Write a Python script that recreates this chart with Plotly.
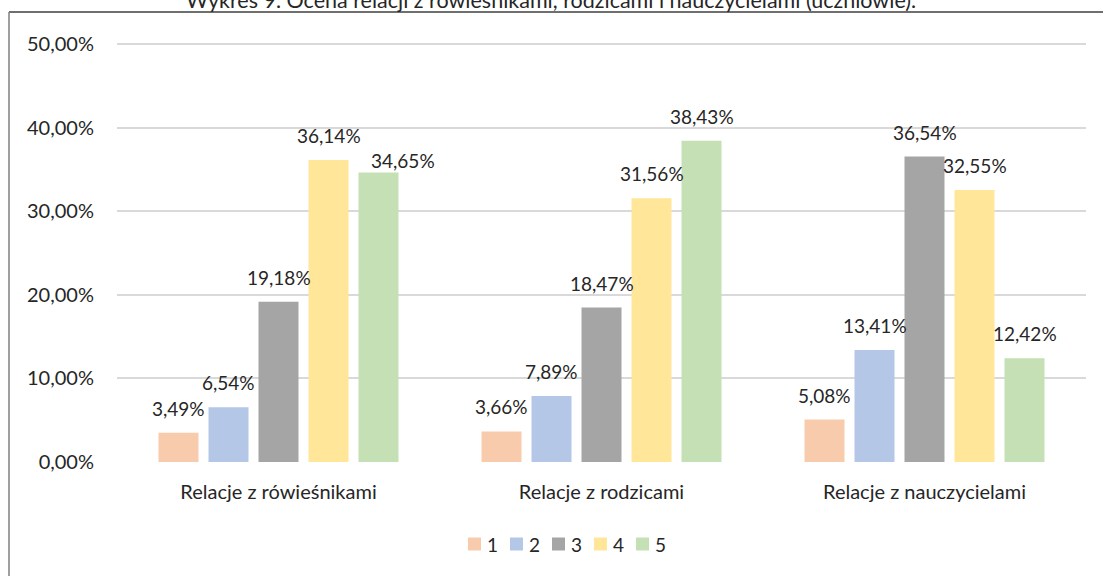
import plotly.graph_objects as go

categories = ["Relacje z rówieśnikami", "Relacje z rodzicami", "Relacje z nauczycielami"]
series_names = ["1", "2", "3", "4", "5"]
s1 = [3.49, 3.66, 5.08]
s2 = [6.54, 7.89, 13.41]
s3 = [19.18, 18.47, 36.54]
s4 = [36.14, 31.56, 32.55]
s5 = [34.65, 38.43, 12.42]
y_ticks = [0, 10, 20, 30, 40, 50]
y_tick_labels = ["0,00%", "10,00%", "20,00%", "30,00%", "40,00%", "50,00%"]
title_text = "Wykres 9. Ocena relacji z rówieśnikami, rodzicami i nauczycielami (uczniowie)."

series = [s1, s2, s3, s4, s5]
colors = ["#F8CBAD", "#B4C7E7", "#A5A5A5", "#FFE699", "#C5E0B4"]

W, H = 1103, 576
ML, MR, MT, MB = 117, 17, 42, 114
PW, PH = W - ML - MR, H - MT - MB
FONT = "Lato, 'Open Sans', sans-serif"
TXT = "#262626"


def px_x(p):
    return (p - ML) / PW


def px_y(p):
    return (H - MB - p) / PH


fig = go.Figure()
for name, vals, col in zip(series_names, series, colors):
    fig.add_trace(go.Bar(
        name=name, x=categories, y=vals, marker=dict(color=col, line=dict(width=0)),
        hoverinfo="skip", showlegend=False,
    ))


def fmt(v):
    return f"{v:.2f}".replace(".", ",") + "%"


# label offsets (style adjustments, pixels)
special = {(4, 0): (24, -13)}
slot = 50
annotations = []
for i, vals in enumerate(series):
    for j, v in enumerate(vals):
        dx, dy = special.get((i, j), (0, 0))
        annotations.append(dict(
            x=categories[j], y=v, xref="x", yref="y", text=fmt(v), showarrow=False,
            xshift=(i - 2) * slot + dx, yshift=11 + dy, yanchor="bottom",
            font=dict(family=FONT, size=19, color=TXT),
        ))

# title (partially cut at top, as in the reference)
annotations.append(dict(
    x=px_x(551), y=px_y(0), xref="paper", yref="paper", text=title_text,
    showarrow=False, xanchor="center", yanchor="middle",
    font=dict(family=FONT, size=21.5, color=TXT),
))

shapes = []
# outer chart border
shapes.append(dict(type="line", xref="paper", yref="paper",
                   x0=px_x(9), x1=px_x(W + 20), y0=px_y(12), y1=px_y(12),
                   line=dict(color="#6F6F6F", width=2)))
shapes.append(dict(type="line", xref="paper", yref="paper",
                   x0=px_x(9), x1=px_x(9), y0=px_y(12), y1=px_y(H + 20),
                   line=dict(color="#7F7F7F", width=1.5)))

# manual legend
leg_x0, leg_step, leg_y = 468, 42, 544
for i, (name, col) in enumerate(zip(series_names, colors)):
    x = leg_x0 + i * leg_step
    shapes.append(dict(type="rect", xref="paper", yref="paper",
                       x0=px_x(x), x1=px_x(x + 13), y0=px_y(leg_y + 6.5), y1=px_y(leg_y - 6.5),
                       line=dict(width=0), fillcolor=col))
    annotations.append(dict(x=px_x(x + 17), y=px_y(leg_y), xref="paper", yref="paper",
                            text=name, showarrow=False, xanchor="left", yanchor="middle",
                            font=dict(family=FONT, size=19, color=TXT)))

fig.update_layout(
    width=W, height=H,
    margin=dict(l=ML, r=MR, t=MT, b=MB, pad=0, autoexpand=False),
    paper_bgcolor="white", plot_bgcolor="white",
    barmode="group", bargap=0.226, bargroupgap=0.2,
    font=dict(family=FONT, size=16, color=TXT),
    showlegend=False,
    annotations=annotations,
    shapes=shapes,
    xaxis=dict(showgrid=False, showline=False, ticks="", tickfont=dict(size=20, color=TXT),
               zeroline=False, ticklabelstandoff=16),
    yaxis=dict(range=[0, 50.25], tickvals=y_ticks, ticktext=y_tick_labels,
               showgrid=True, gridcolor="#D9D9D9", gridwidth=2, zeroline=False,
               showline=False, ticks="", ticklabelstandoff=22,
               tickfont=dict(size=20, color=TXT)),
)

fig.write_html("out.html", config={"displayModeBar": False},
               post_script="document.body.style.margin='0';")
